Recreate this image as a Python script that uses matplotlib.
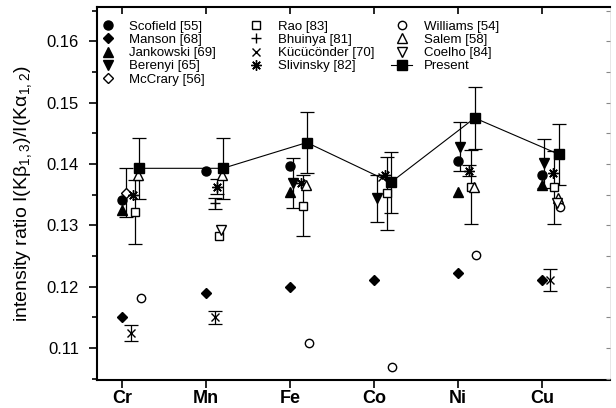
import numpy as np
import matplotlib
matplotlib.use('Agg')
import matplotlib.pyplot as plt

plt.rcParams['font.family'] = ['Liberation Sans', 'DejaVu Sans']
plt.rcParams['mathtext.default'] = 'regular'

nan = np.nan
#------------------------------------------------------------------------------
elements = ['Cr', 'Mn', 'Fe', 'Co', 'Ni', 'Cu']

scofield   = [0.1341, 0.1388, 0.1396, nan, 0.1405, 0.1382]
manson     = [0.1150, 0.1189, 0.1200, 0.1211, 0.1222, 0.1211]
jankowski  = [0.1325, nan, 0.1355, nan, 0.1355, 0.1366]
berenyi    = [nan, nan, 0.1369, 0.1344, 0.1428, 0.1401]
berenyi_e  = [nan, nan, 0.0040, 0.0038, 0.0040, 0.0040]
mccrary    = [0.1353, nan, nan, nan, nan, nan]
mccrary_e  = [0.0040, nan, nan, nan, nan, nan]
rao        = [0.1322, 0.1282, 0.1332, 0.1352, 0.1363, 0.1362]
rao_e      = [0.0052, nan, 0.0050, 0.0060, 0.0060, 0.0060]
bhuinya    = [nan, 0.1336, nan, nan, nan, nan]
bhuinya_e  = [nan, 0.0009, nan, nan, nan, nan]
kucukonder = [0.1124, 0.1150, nan, 0.1379, nan, 0.1211]
kucuk_e    = [0.0013, 0.0010, nan, nan, nan, 0.0018]
slivinsky  = [0.1350, 0.1363, 0.1369, 0.1382, 0.1389, 0.1385]
slivinsky_e = [nan, 0.0012, nan, nan, 0.0009, nan]
williams   = [0.1181, nan, 0.1109, 0.1069, 0.1252, 0.1330]
salem      = [0.1382, 0.1382, 0.1366, nan, 0.1363, 0.1344]
coelho     = [nan, 0.1292, nan, nan, nan, 0.1336]
present    = [0.1393, 0.1393, 0.1435, 0.1370, 0.1475, 0.1416]
present_e  = [0.0050, 0.0050, 0.0050, 0.0050, 0.0050, 0.0050]
#------------------------------------------------------------------------------
fig = plt.figure(figsize=(6.16, 4.08), dpi=100)
ax = fig.add_axes([0.1575, 0.0686, 0.8325, 0.9144])
x = np.arange(len(elements))

# (label, values, errors, offset, marker, size, filled)
series = [
    ('Scofield [55]',   scofield,   None,        0.00, 'o', 6.5, True),
    ('Manson [68]',     manson,     None,        0.00, 'D', 5.5, True),
    ('Jankowski [69]',  jankowski,  None,        0.00, '^', 7.0, True),
    ('Berenyi [65]',    berenyi,    berenyi_e,   0.03, 'v', 7.0, True),
    ('McCrary [56]',    mccrary,    mccrary_e,   0.05, 'D', 5.0, False),
    ('Rao [83]',        rao,        rao_e,       0.15, 's', 6.0, False),
    ('Bhuinya [81]',    bhuinya,    bhuinya_e,   0.11, '+', 7.0, False),
    (u'K\u00fcc\u00fcc\u00f6nder [70]', kucukonder, kucuk_e, 0.10, 'x', 6.0, False),
    ('Slivinsky [82]',  slivinsky,  slivinsky_e, 0.13, (8, 2, 0), 7.5, False),
    ('Williams [54]',   williams,   None,        0.22, 'o', 6.0, False),
    ('Salem [58]',      salem,      None,        0.19, '^', 7.0, False),
    ('Coelho [84]',     coelho,     None,        0.18, 'v', 7.0, False),
]

handles = []
for label, vals, errs, off, mk, ms, filled in series:
    v = np.array(vals, dtype=float)
    xs = x + off
    if errs is not None:
        e = np.array(errs, dtype=float)
        m = ~np.isnan(e)
        ax.errorbar(xs[m], v[m], yerr=e[m], fmt='none', ecolor='k',
                    elinewidth=0.9, capsize=5, capthick=0.9, zorder=2)
    fc = 'k' if filled else 'w'
    h, = ax.plot(xs, v, ls='none', marker=mk, ms=ms, mfc=fc, mec='k',
                 mew=1.0, zorder=3, label=label)
    handles.append(h)

pv = np.array(present)
ax.errorbar(x + 0.2, pv, yerr=present_e, fmt='none', ecolor='k',
            elinewidth=0.9, capsize=5, capthick=0.9, zorder=2)
h, = ax.plot(x + 0.2, pv, '-', c='k', lw=0.8, marker='s', ms=6.5,
             mfc='k', mec='k', zorder=4, label='Present')
handles.append(h)

#------------------------------------------------------------------------------
xlim = (-0.3, 5.81)
ylim = (0.1048, 0.1656)
major = np.arange(0.11, 0.165, 0.01)
minor = np.arange(0.105, 0.166, 0.005)
ax.set_xlim(*xlim)
ax.set_ylim(*ylim)
ax.set_xticks(x)
ax.set_xticklabels(elements, fontsize=13, fontweight='bold')
ax.set_yticks(major)
ax.set_yticks(minor, minor=True)
ax.set_yticklabels(['%.2f' % t for t in major], fontsize=12)
ax.set_ylabel(r'intensity ratio I(K$\beta_{1,3}$)/I(K$\alpha_{1,2}$)', fontsize=14, labelpad=9)

ax.tick_params(axis='y', which='major', direction='out', length=6, width=1.2, pad=7)
ax.tick_params(axis='y', which='minor', direction='out', length=3.5, width=1.2)
ax.tick_params(axis='x', which='major', direction='out', length=6, width=1.2, pad=1.0)
for sp in ['left', 'bottom', 'top']:
    ax.spines[sp].set_linewidth(1.5)
ax.spines['right'].set_linewidth(0.5)
ax.spines['right'].set_color('#dddddd')

# inward ticks on top and right
axt = ax.twiny()
axt.set_xlim(*xlim)
axt.set_xticks(x)
axt.set_xticklabels([])
axt.tick_params(axis='x', direction='in', length=5, width=1.2)
axr = ax.twinx()
axr.set_ylim(*ylim)
axr.set_yticks(major)
axr.set_yticks(minor, minor=True)
axr.set_yticklabels([])
axr.tick_params(axis='y', which='both', direction='in', length=3, width=0.8, color='#888888')
for a in (axt, axr):
    for sp in a.spines.values():
        sp.set_visible(False)

# legend in three columns
cols = [handles[0:5], handles[5:9], handles[9:13]]
col_x = [0.0, 0.289, 0.574]
for i, (hs, cx) in enumerate(zip(cols, col_x)):
    lg = ax.legend(handles=hs, loc='upper left', frameon=False,
                   bbox_to_anchor=(cx, 0.964), fontsize=9.5, handlelength=1.6,
                   handletextpad=0.85, labelspacing=0.08,
                   borderaxespad=0.0, borderpad=0.0)
    if i < len(cols) - 1:
        ax.add_artist(lg)

fig.savefig('out.png', dpi=100)
